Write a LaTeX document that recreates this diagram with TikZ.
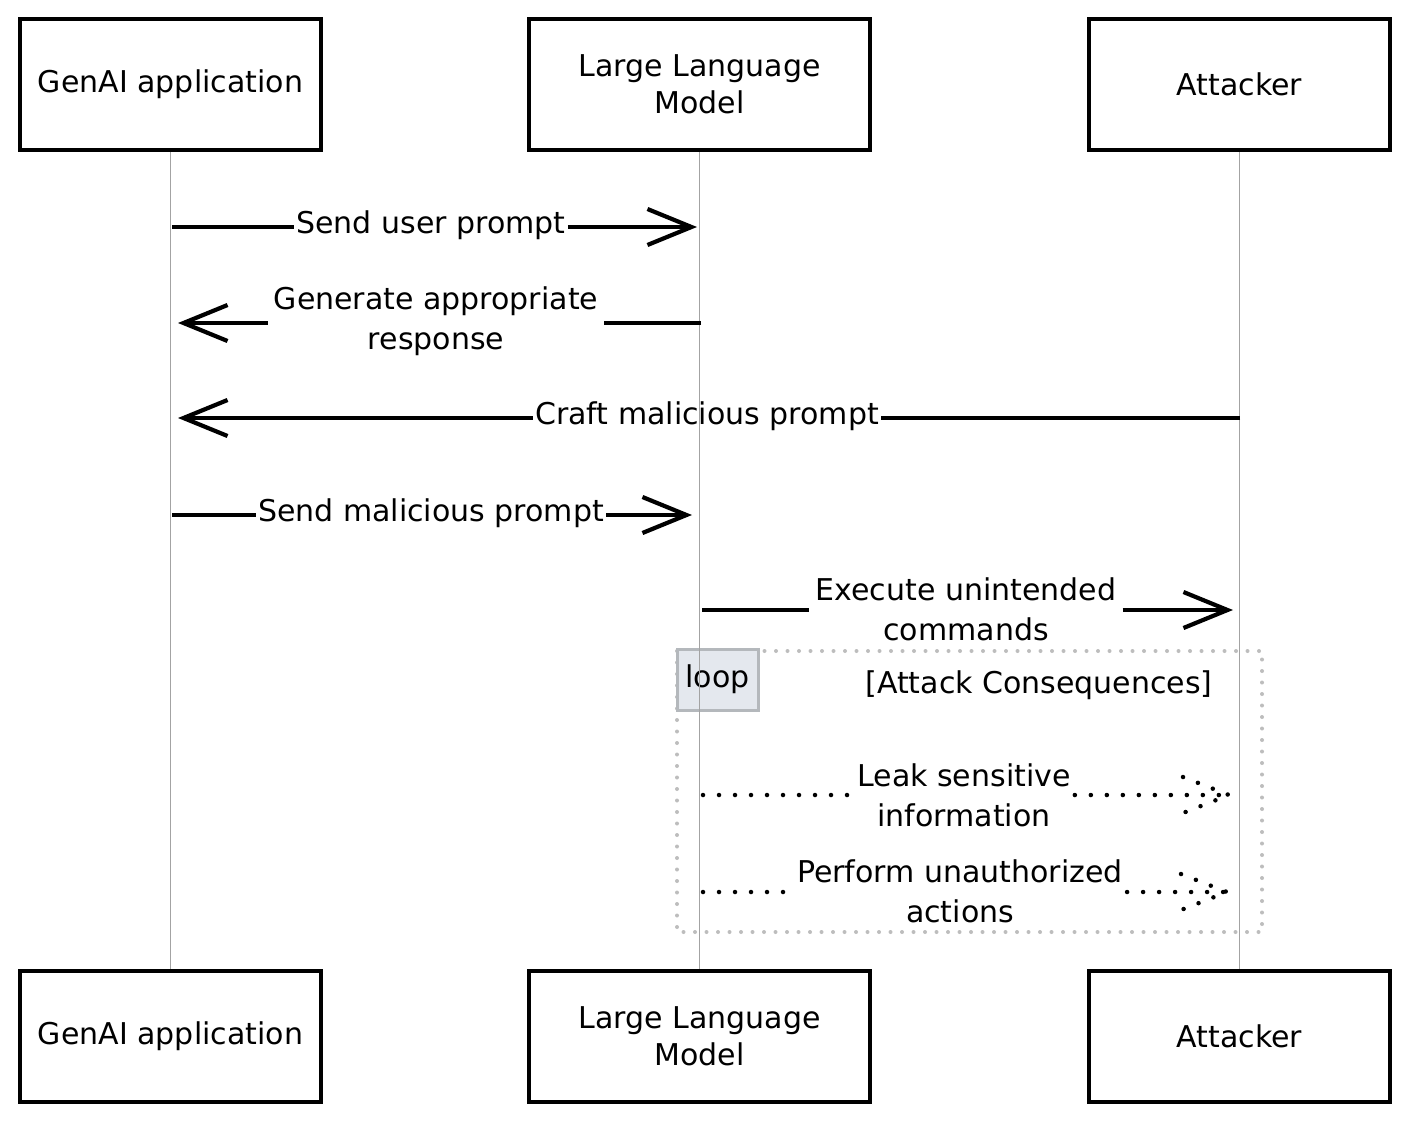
\documentclass[tikz,border=0pt]{standalone}
\usepackage{fontspec}
\setmainfont{DejaVu Sans}
\usetikzlibrary{arrows.meta}
\definecolor{lifegray}{HTML}{A3A3A3}
\definecolor{framegray}{HTML}{BDBDBD}
\definecolor{loopfill}{HTML}{E4E8EE}
\definecolor{loopdraw}{HTML}{B4B8BC}
\begin{document}
\begin{tikzpicture}[x=1pt,y=-1pt,
  actor/.style={draw=black,line width=4.2pt,fill=white,minimum height=131pt,
    align=center,inner sep=2pt,font=\fontsize{30}{37}\selectfont},
  lifeline/.style={draw=lifegray,line width=1.8pt},
  msglbl/.style={align=center,inner sep=2pt,font=\fontsize{30}{40}\selectfont},
  msg/.style={draw=black,line width=4.5pt},
  msgarrow/.style={msg,-{Straight Barb[length=44pt,width=36pt,line width=4.2pt]}},
  dotmsg/.style={draw=black,line width=4.5pt,line cap=round,dash pattern=on 0pt off 16pt},
  loopframe/.style={draw=framegray,line width=4pt,line cap=round,dash pattern=on 0pt off 11.5pt},
  looplbl/.style={draw=loopdraw,fill=loopfill,line width=3pt,minimum width=81pt,minimum height=61pt,
    inner sep=0pt,font=\fontsize{30}{34}\selectfont}
]
\useasboundingbox (0,0) rectangle (1410,1122);

% loop frame and label
\draw[loopframe] (677,651) rectangle (1262,932);
\node[looplbl] (loop) at (717.5,679.5) {\raisebox{-4pt}{loop}};
\node[msglbl] (cond) at (1039,685) {[Attack Consequences]};

% actors
\node[actor,minimum width=301pt] (ga1) at (170.5,84.5) {GenAI application};
\node[actor,minimum width=341pt] (ll1) at (699.5,84.5) {Large Language\\Model};
\node[actor,minimum width=301pt] (at1) at (1239.5,84.5) {Attacker};
\node[actor,minimum width=301pt] (ga2) at (170.5,1036.5) {GenAI application};
\node[actor,minimum width=341pt] (ll2) at (699.5,1036.5) {Large Language\\Model};
\node[actor,minimum width=301pt] (at2) at (1239.5,1036.5) {Attacker};

% lifelines
\draw[lifeline] (ga1.south) -- (ga2.north);
\draw[lifeline] (ll1.south) -- (ll2.north);
\draw[lifeline] (at1.south) -- (at2.north);

% message 1
\coordinate (m1s) at (172,227);
\coordinate (m1t) at (697,227);
\node[msglbl] (m1l) at (431,225) {Send user prompt};
\draw[msg] (m1s) -- (m1l.west |- m1s);
\draw[msgarrow] (m1l.east |- m1t) -- (m1t);

% message 2
\coordinate (m2s) at (701,323);
\coordinate (m2t) at (178,323);
\node[msglbl,inner xsep=6pt] (m2l) at (436,321) {Generate appropriate\\response};
\draw[msg] (m2s) -- (m2l.east |- m2s);
\draw[msgarrow] (m2l.west |- m2t) -- (m2t);

% message 3
\coordinate (m3s) at (1240,418);
\coordinate (m3t) at (178,418);
\node[msglbl] (m3l) at (707,416) {Craft malicious prompt};
\draw[msg] (m3s) -- (m3l.east |- m3s);
\draw[msgarrow] (m3l.west |- m3t) -- (m3t);

% message 4
\coordinate (m4s) at (172,515);
\coordinate (m4t) at (692,515);
\node[msglbl] (m4l) at (431,513) {Send malicious prompt};
\draw[msg] (m4s) -- (m4l.west |- m4s);
\draw[msgarrow] (m4l.east |- m4t) -- (m4t);

% message 5
\coordinate (m5s) at (702,610);
\coordinate (m5t) at (1233,610);
\node[msglbl,inner xsep=6pt] (m5l) at (966,609) {Execute unintended\\commands};
\draw[msg] (m5s) -- (m5l.west |- m5s);
\draw[msgarrow] (m5l.east |- m5t) -- (m5t);

% message 6 (dotted)
\coordinate (m6s) at (703,795);
\coordinate (m6t) at (1229,795);
\node[msglbl,inner xsep=4pt] (m6l) at (964,795) {Leak sensitive\\information};
\draw[dotmsg] (m6s) -- (m6l.west |- m6s);
\draw[dotmsg] (m6l.east |- m6t) -- (m6t);
\draw[dotmsg] (m6t) ++(-46,-18) -- (m6t) -- ++(-46,18);

% message 7 (dotted)
\coordinate (m7s) at (703,892);
\coordinate (m7t) at (1227,892);
\node[msglbl,inner xsep=4pt] (m7l) at (960,891) {Perform unauthorized\\actions};
\draw[dotmsg] (m7s) -- (m7l.west |- m7s);
\draw[dotmsg] (m7l.east |- m7t) -- (m7t);
\draw[dotmsg] (m7t) ++(-46,-18) -- (m7t) -- ++(-46,18);
\end{tikzpicture}
\end{document}
